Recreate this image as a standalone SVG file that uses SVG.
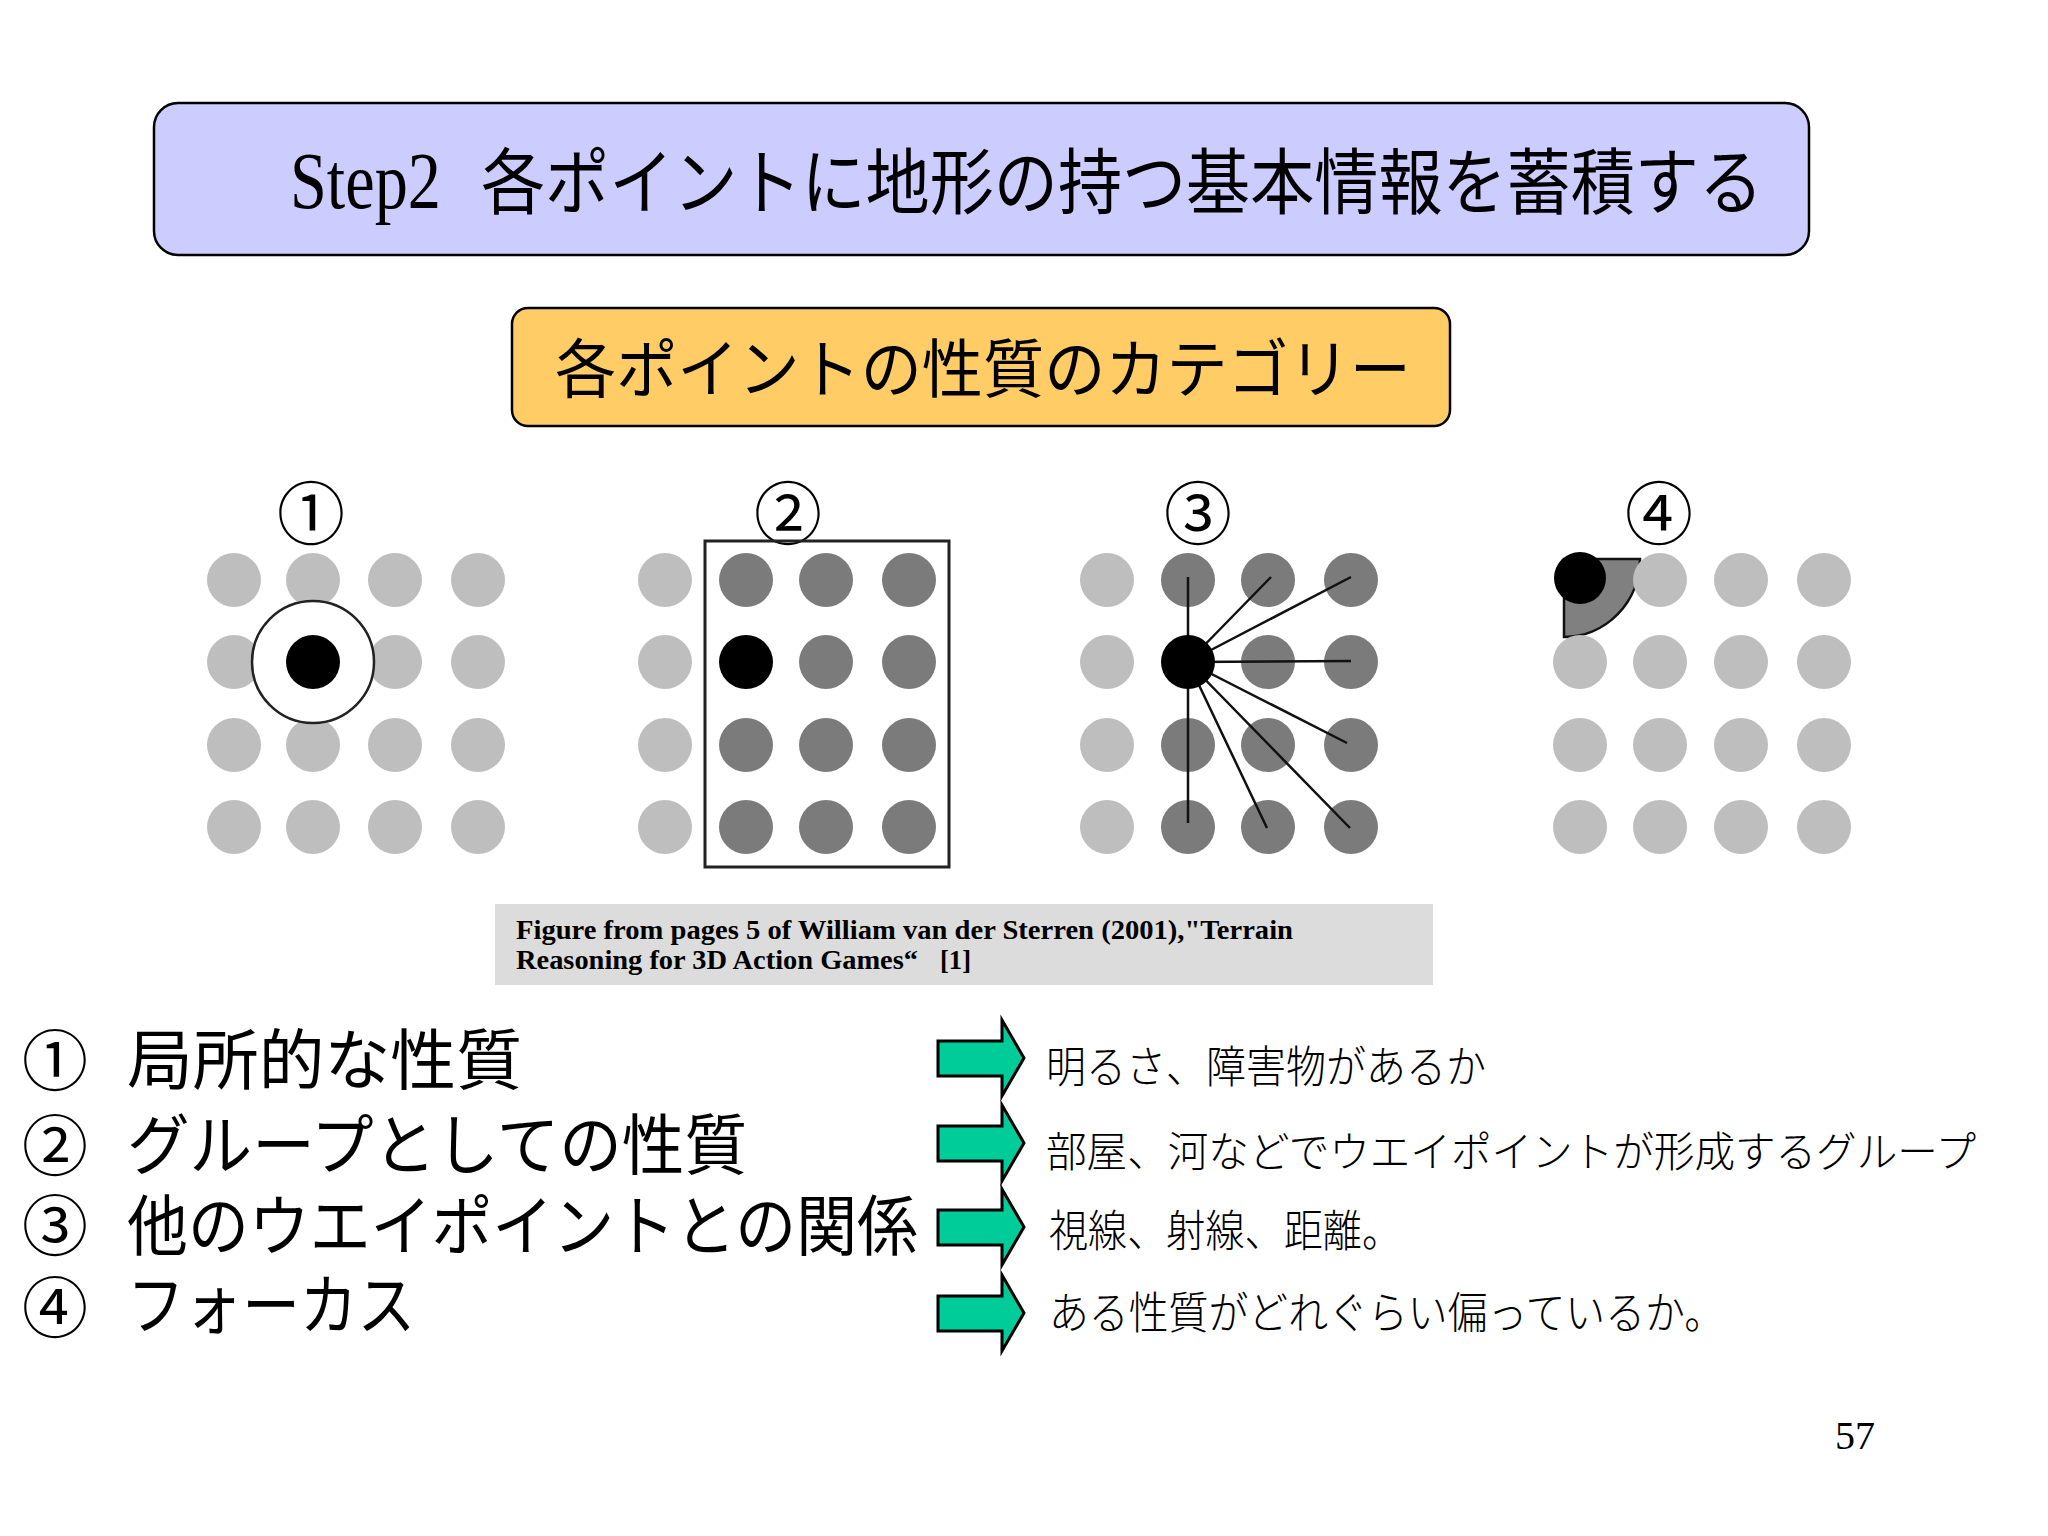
<svg xmlns="http://www.w3.org/2000/svg" width="2048" height="1536" viewBox="0 0 2048 1536">
<defs>
<style>
.jp{font-family:"Noto Sans CJK JP","Noto Sans CJK SC",sans-serif;fill:#000}
.jpl{font-family:"Noto Sans CJK JP","Noto Sans CJK SC",sans-serif;font-weight:300;fill:#000}
.serif{font-family:"Liberation Serif","Times New Roman",serif;fill:#000}
.lg{fill:#bebebe}
.dg{fill:#7b7b7b}
.bk{fill:#000}
.ray{stroke:#111;stroke-width:2.5;fill:none}
.arrow{fill:#00cc99;stroke:#000;stroke-width:3;stroke-linejoin:miter}
</style>
<path id="blockArrow" d="M0,-17 L64,-17 L64,-38 L86,0 L64,38 L64,18 L0,18 Z"/>
</defs>
<rect width="2048" height="1536" fill="#fff"/>

<g id="title">
<rect x="154" y="103" width="1655" height="152" rx="24" ry="24" fill="#ccccff" stroke="#000" stroke-width="2.5"/>
<text class="serif" x="290" y="208" font-size="80" textLength="151" lengthAdjust="spacingAndGlyphs">Step2</text>
<text class="jp" x="481" y="208" font-size="72" textLength="1282" lengthAdjust="spacingAndGlyphs">各ポイントに地形の持つ基本情報を蓄積する</text>
</g>

<g id="category">
<rect x="512" y="308" width="938" height="118" rx="16" ry="16" fill="#ffcc66" stroke="#000" stroke-width="2.5"/>
<text class="jp" x="555" y="392" font-size="64" textLength="856" lengthAdjust="spacingAndGlyphs">各ポイントの性質のカテゴリー</text>
</g>

<g id="grid1">
<text class="jp" x="311" y="539" font-size="68" text-anchor="middle">①</text>
<circle class="lg" cx="234" cy="580" r="27"/><circle class="lg" cx="313" cy="580" r="27"/><circle class="lg" cx="395" cy="580" r="27"/><circle class="lg" cx="478" cy="580" r="27"/>
<circle class="lg" cx="234" cy="662" r="27"/><circle class="lg" cx="395" cy="662" r="27"/><circle class="lg" cx="478" cy="662" r="27"/>
<circle class="lg" cx="234" cy="745" r="27"/><circle class="lg" cx="313" cy="745" r="27"/><circle class="lg" cx="395" cy="745" r="27"/><circle class="lg" cx="478" cy="745" r="27"/>
<circle class="lg" cx="234" cy="827" r="27"/><circle class="lg" cx="313" cy="827" r="27"/><circle class="lg" cx="395" cy="827" r="27"/><circle class="lg" cx="478" cy="827" r="27"/>
<circle cx="313" cy="662" r="61" fill="#fff" stroke="#222" stroke-width="2.5"/>
<circle class="bk" cx="313" cy="662" r="27"/>
</g>

<g id="grid2">
<text class="jp" x="788" y="539" font-size="68" text-anchor="middle">②</text>
<circle class="lg" cx="665" cy="580" r="27"/><circle class="dg" cx="746" cy="580" r="27"/><circle class="dg" cx="826" cy="580" r="27"/><circle class="dg" cx="909" cy="580" r="27"/>
<circle class="lg" cx="665" cy="662" r="27"/><circle class="bk" cx="746" cy="662" r="27"/><circle class="dg" cx="826" cy="662" r="27"/><circle class="dg" cx="909" cy="662" r="27"/>
<circle class="lg" cx="665" cy="745" r="27"/><circle class="dg" cx="746" cy="745" r="27"/><circle class="dg" cx="826" cy="745" r="27"/><circle class="dg" cx="909" cy="745" r="27"/>
<circle class="lg" cx="665" cy="827" r="27"/><circle class="dg" cx="746" cy="827" r="27"/><circle class="dg" cx="826" cy="827" r="27"/><circle class="dg" cx="909" cy="827" r="27"/>
<rect x="705" y="541" width="244" height="326" fill="none" stroke="#222" stroke-width="3"/>
</g>

<g id="grid3">
<text class="jp" x="1198" y="539" font-size="68" text-anchor="middle">③</text>
<circle class="lg" cx="1107" cy="580" r="27"/><circle class="dg" cx="1188" cy="580" r="27"/><circle class="dg" cx="1268" cy="580" r="27"/><circle class="dg" cx="1351" cy="580" r="27"/>
<circle class="lg" cx="1107" cy="662" r="27"/><circle class="dg" cx="1268" cy="662" r="27"/><circle class="dg" cx="1351" cy="662" r="27"/>
<circle class="lg" cx="1107" cy="745" r="27"/><circle class="dg" cx="1188" cy="745" r="27"/><circle class="dg" cx="1268" cy="745" r="27"/><circle class="dg" cx="1351" cy="745" r="27"/>
<circle class="lg" cx="1107" cy="827" r="27"/><circle class="dg" cx="1188" cy="827" r="27"/><circle class="dg" cx="1268" cy="827" r="27"/><circle class="dg" cx="1351" cy="827" r="27"/>
<path class="ray" d="M1188,662 L1188,577 M1188,662 L1271,577 M1188,662 L1351,577 M1188,662 L1351,661 M1188,662 L1347,743 M1188,662 L1267,828 M1188,662 L1350,828 M1188,662 L1188,823"/>
<circle class="bk" cx="1188" cy="662" r="27"/>
</g>

<g id="grid4">
<text class="jp" x="1659" y="539" font-size="68" text-anchor="middle">④</text>
<path d="M1564,559 L1640,559 A76,78 0 0 1 1564,637 Z" fill="#808080" stroke="#111" stroke-width="2.5"/>
<circle class="lg" cx="1660" cy="580" r="27"/><circle class="lg" cx="1741" cy="580" r="27"/><circle class="lg" cx="1824" cy="580" r="27"/>
<circle class="lg" cx="1580" cy="662" r="27"/><circle class="lg" cx="1660" cy="662" r="27"/><circle class="lg" cx="1741" cy="662" r="27"/><circle class="lg" cx="1824" cy="662" r="27"/>
<circle class="lg" cx="1580" cy="745" r="27"/><circle class="lg" cx="1660" cy="745" r="27"/><circle class="lg" cx="1741" cy="745" r="27"/><circle class="lg" cx="1824" cy="745" r="27"/>
<circle class="lg" cx="1580" cy="827" r="27"/><circle class="lg" cx="1660" cy="827" r="27"/><circle class="lg" cx="1741" cy="827" r="27"/><circle class="lg" cx="1824" cy="827" r="27"/>
<circle class="bk" cx="1580" cy="578" r="26"/>
</g>

<g id="caption">
<rect x="495" y="904" width="938" height="81" fill="#dcdcdc"/>
<text class="serif" x="516" y="939" font-size="27" font-weight="bold" textLength="777" lengthAdjust="spacingAndGlyphs">Figure from pages 5 of William van der Sterren (2001),"Terrain</text>
<text class="serif" x="516" y="969" font-size="27" font-weight="bold" textLength="402" lengthAdjust="spacingAndGlyphs">Reasoning for 3D Action Games“</text>
<text class="serif" x="940" y="969" font-size="27" font-weight="bold" textLength="31" lengthAdjust="spacingAndGlyphs">[1]</text>
</g>

<g id="list">
<text class="jp" x="55" y="1085" font-size="66" text-anchor="middle">①</text>
<text class="jp" x="127" y="1084" font-size="66" textLength="395" lengthAdjust="spacingAndGlyphs">局所的な性質</text>
<text class="jp" x="55" y="1170" font-size="66" text-anchor="middle">②</text>
<text class="jp" x="127" y="1169" font-size="66" textLength="620" lengthAdjust="spacingAndGlyphs">グループとしての性質</text>
<text class="jp" x="55" y="1250" font-size="66" text-anchor="middle">③</text>
<text class="jp" x="127" y="1250" font-size="66" textLength="791" lengthAdjust="spacingAndGlyphs">他のウエイポイントとの関係</text>
<text class="jp" x="55" y="1332" font-size="66" text-anchor="middle">④</text>
<text class="jp" x="127" y="1329" font-size="66" textLength="288" lengthAdjust="spacingAndGlyphs">フォーカス</text>
</g>

<g id="connectors">
<use href="#blockArrow" class="arrow" transform="translate(938,1058)"/>
<use href="#blockArrow" class="arrow" transform="translate(938,1143)"/>
<use href="#blockArrow" class="arrow" transform="translate(938,1227)"/>
<use href="#blockArrow" class="arrow" transform="translate(938,1313)"/>
</g>

<g id="descriptions">
<text class="jpl" x="1046" y="1083" font-size="44" textLength="440" lengthAdjust="spacingAndGlyphs">明るさ、障害物があるか</text>
<text class="jpl" x="1046" y="1167" font-size="42" textLength="930" lengthAdjust="spacingAndGlyphs">部屋、河などでウエイポイントが形成するグループ</text>
<text class="jpl" x="1049" y="1247" font-size="44" textLength="352" lengthAdjust="spacingAndGlyphs">視線、射線、距離。</text>
<text class="jpl" x="1049" y="1329" font-size="44" textLength="675" lengthAdjust="spacingAndGlyphs">ある性質がどれぐらい偏っているか。</text>
</g>

<g id="page">
<text class="serif" x="1835" y="1449" font-size="40">57</text>
</g>
</svg>
